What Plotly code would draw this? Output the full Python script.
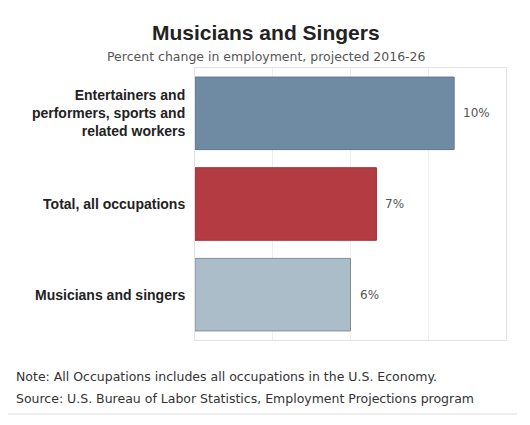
import plotly.graph_objects as go

categories = ["Entertainers and<br>performers, sports and<br>related workers",
              "Total, all occupations",
              "Musicians and singers"]
values = [10, 7, 6]
value_labels = ["10%", "7%", "6%"]
bar_colors = ["#6F8BA4", "#B43B41", "#ACBDCA"]
line_colors = ["#5F7890", "#9A3035", "#808E9A"]

# page body adds an 8px offset; positions below are screen pixels
OFF = 8
W, H = 530 - OFF, 425 - OFF
PL, PR, PT, PB = 195, 506, 68, 340   # plot area in screen pixels
L, T = PL - OFF, PT - OFF
R, B = W - (PR - OFF), H - (PB - OFF)
pw, ph = W - L - R, H - T - B

def px_x(x):
    return (x - OFF - L) / pw

def px_y(y):
    return (H - B - (y - OFF)) / ph

fig = go.Figure()
fig.add_trace(go.Bar(
    y=categories, x=values, orientation="h",
    marker=dict(color=bar_colors, line=dict(color=line_colors, width=1)),
    hoverinfo="skip",
))

for c, v, t in zip(categories, values, value_labels):
    fig.add_annotation(x=v, y=c, xref="x", yref="y", text=t, showarrow=False,
                       xanchor="left", xshift=7,
                       font=dict(family="DejaVu Sans", size=12, color="#555555"))

fig.add_annotation(x=px_x(266), xref="paper", y=px_y(32), yref="paper",
                   text="<b>Musicians and Singers</b>", showarrow=False,
                   xanchor="center", yanchor="middle",
                   font=dict(family="Liberation Sans, Arial", size=21, color="#222222"))
fig.add_annotation(x=px_x(266), xref="paper", y=px_y(57), yref="paper",
                   text="Percent change in employment, projected 2016-26", showarrow=False,
                   xanchor="center", yanchor="middle",
                   font=dict(family="DejaVu Sans", size=12.5, color="#555555"))
fig.add_annotation(x=px_x(14), xref="paper", y=px_y(376), yref="paper",
                   text="Note: All Occupations includes all occupations in the U.S. Economy.",
                   showarrow=False, xanchor="left", yanchor="middle",
                   font=dict(family="DejaVu Sans", size=12.5, color="#333333"))
fig.add_annotation(x=px_x(14), xref="paper", y=px_y(398), yref="paper",
                   text="Source: U.S. Bureau of Labor Statistics, Employment Projections program",
                   showarrow=False, xanchor="left", yanchor="middle",
                   font=dict(family="DejaVu Sans", size=12.5, color="#333333"))
fig.add_shape(type="line", xref="paper", yref="paper",
              x0=px_x(0), x1=px_x(517), y0=px_y(414), y1=px_y(414),
              line=dict(color="#DDDDDD", width=1))

fig.update_layout(
    width=W, height=H,
    margin=dict(l=L, r=R, t=T, b=B, pad=0),
    paper_bgcolor="white", plot_bgcolor="white",
    showlegend=False, bargap=0.2,
    xaxis=dict(range=[0, 12], dtick=3, showticklabels=False, showgrid=True,
               gridcolor="#EEEEEE", zeroline=False, showline=True,
               linecolor="#E3E3E3", mirror=True, fixedrange=True),
    yaxis=dict(autorange="reversed", showgrid=False, showline=True,
               linecolor="#E3E3E3", mirror=True, ticks="", ticklabelstandoff=6,
               tickfont=dict(family="Liberation Sans, Arial", size=14, color="#222222"),
               fixedrange=True),
)
fig.update_yaxes(tickprefix="<b>", ticksuffix="</b>")

fig.write_html("out.html")
